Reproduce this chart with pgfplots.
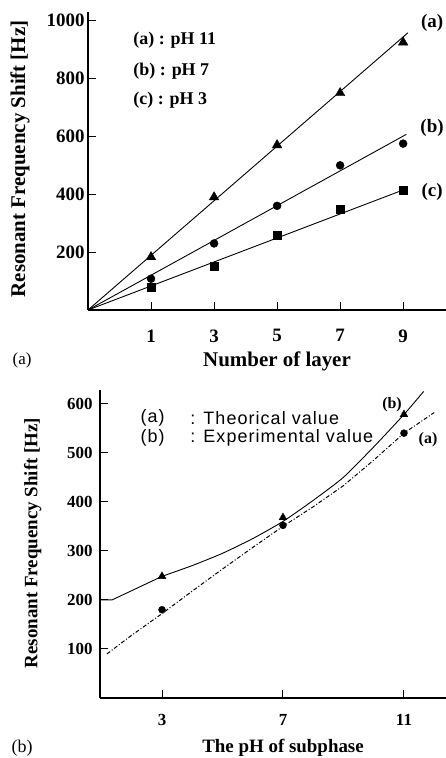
\documentclass[border=0pt]{standalone}
\usepackage{fontspec}
\setmainfont{Liberation Serif}
\newfontfamily\sansf[LetterSpace=6]{Liberation Sans}
\usepackage{pgfplots}
\pgfplotsset{compat=1.18}
\newcommand{\fs}[1]{\fontsize{#1}{#1}\selectfont}
\begin{document}
\begin{tikzpicture}[x=1bp,y=1bp]
\useasboundingbox (0,0) rectangle (446,758);
% ---------------- panel (a) ----------------
\begin{axis}[
  at={(88bp,448bp)}, anchor=south west, scale only axis,
  width=358bp, height=298bp,
  xmin=-1, xmax=10.36, ymin=0, ymax=1030,
  axis x line=bottom, axis y line=left,
  axis line style={-, line width=1.1pt},
  tick align=inside, major tick length=8bp,
  tick style={line width=1pt, black},
  xtick={1,3,5,7,9}, ytick={200,400,600,800,1000},
  /pgf/number format/assume math mode=true,
  /pgf/number format/1000 sep={},
  ticklabel style={font=\bfseries\fs{19}},
  xticklabel style={yshift=-16bp},
  clip=false,
  xlabel={Number of layer},
  ylabel={Resonant Frequency Shift [Hz]},
  xlabel style={at={(axis description cs:0.528,-0.172)}, anchor=center, font=\bfseries\fs{21}},
  ylabel style={at={(axis description cs:-0.19,0.507)}, anchor=center, font=\bfseries\fs{21}},
]
% fitted lines
\addplot[black, line width=0.9pt] coordinates {(-1,0) (9.15,958)};
\addplot[black, line width=0.9pt] coordinates {(-1,0) (9.1,607)};
\addplot[black, line width=0.9pt] coordinates {(-1,0) (9.1,419)};
% data
\addplot[only marks, mark=triangle*, mark size=5.5bp, black] coordinates {(1,183) (3,390) (5,570) (7,750) (9,925)};
\addplot[only marks, mark=*, mark size=4bp, black] coordinates {(1,108) (3,230) (5,360) (7,500) (9,575)};
\addplot[only marks, mark=square*, mark size=4bp, black] coordinates {(1,80) (3,150) (5,260) (7,350) (9,415)};
% legend text
\node[anchor=west, font=\bfseries\fs{18}] at (axis description cs:0.117,0.906) {(a) : pH 11};
\node[anchor=west, font=\bfseries\fs{18}] at (axis description cs:0.117,0.802) {(b) : pH 7};
\node[anchor=west, font=\bfseries\fs{18}] at (axis description cs:0.117,0.705) {(c) : pH 3};
% curve labels
\node[font=\bfseries\fs{19}] at (axis description cs:0.961,0.963) {(a)};
\node[font=\bfseries\fs{19}] at (axis description cs:0.961,0.611) {(b)};
\node[font=\bfseries\fs{19}] at (axis description cs:0.961,0.396) {(c)};
% panel label
\node[font=\fs{17}] at (axis description cs:-0.184,-0.168) {(a)};
\end{axis}
% ---------------- panel (b) ----------------
\begin{axis}[
  at={(100bp,60bp)}, anchor=south west, scale only axis,
  width=346bp, height=308bp,
  xmin=0.95, xmax=12.39, ymin=0, ymax=628,
  axis x line=bottom, axis y line=left,
  axis line style={-, line width=1.1pt},
  tick align=inside, major tick length=8bp,
  tick style={line width=1pt, black},
  xtick={3,7,11}, ytick={100,200,300,400,500,600},
  /pgf/number format/assume math mode=true,
  /pgf/number format/1000 sep={},
  ticklabel style={font=\bfseries\fs{17}},
  xticklabel style={yshift=-13bp},
  yticklabel style={xshift=-4bp},
  clip=false,
  xlabel={The pH of subphase},
  ylabel={Resonant Frequency Shift [Hz]},
  xlabel style={at={(axis description cs:0.529,-0.162)}, anchor=center, font=\bfseries\fs{19}},
  ylabel style={at={(axis description cs:-0.194,0.503)}, anchor=center, font=\bfseries\fs{19}},
]
% experimental (solid): flat start, then smooth rise
\addplot[black, line width=0.9pt, line join=round] coordinates {
  (0.97,200) (1.35,200) (3,248)};
\addplot[black, line width=0.9pt, smooth, tension=0.35] coordinates {
  (3,248) (4,270) (5,295) (6,325) (7,360)
  (8,403) (9,450) (10,512) (11,578) (11.65,625)};
% theoretical (dash-dot)
\addplot[black, line width=1pt, dash pattern=on 4pt off 2pt on 1pt off 2pt] coordinates {
  (1.18,90) (2,128) (3,172) (4,218) (5,263) (6,307) (7,350)
  (8,390) (9,433) (10,485) (11,540) (12,582)};
\addplot[only marks, mark=triangle*, mark size=4.5bp, black] coordinates {(3,248) (7,368) (11,578)};
\addplot[only marks, mark=*, mark size=3.5bp, black] coordinates {(3,180) (7,352) (11,540)};
% legend text
\node[anchor=west, font=\sansf\fs{18}] at (axis description cs:0.107,0.909) {(a)};
\node[anchor=west, font=\sansf\fs{18}] at (axis description cs:0.251,0.909) {: Theorical value};
\node[anchor=west, font=\sansf\fs{18}] at (axis description cs:0.107,0.844) {(b)};
\node[anchor=west, font=\sansf\fs{18}] at (axis description cs:0.251,0.844) {: Experimental value};
% curve labels
\node[font=\bfseries\fs{16}] at (axis description cs:0.844,0.951) {(b)};
\node[font=\bfseries\fs{16}] at (axis description cs:0.948,0.838) {(a)};
% panel label
\node[font=\fs{18}] at (axis description cs:-0.225,-0.162) {(b)};
\end{axis}
\end{tikzpicture}
\end{document}
